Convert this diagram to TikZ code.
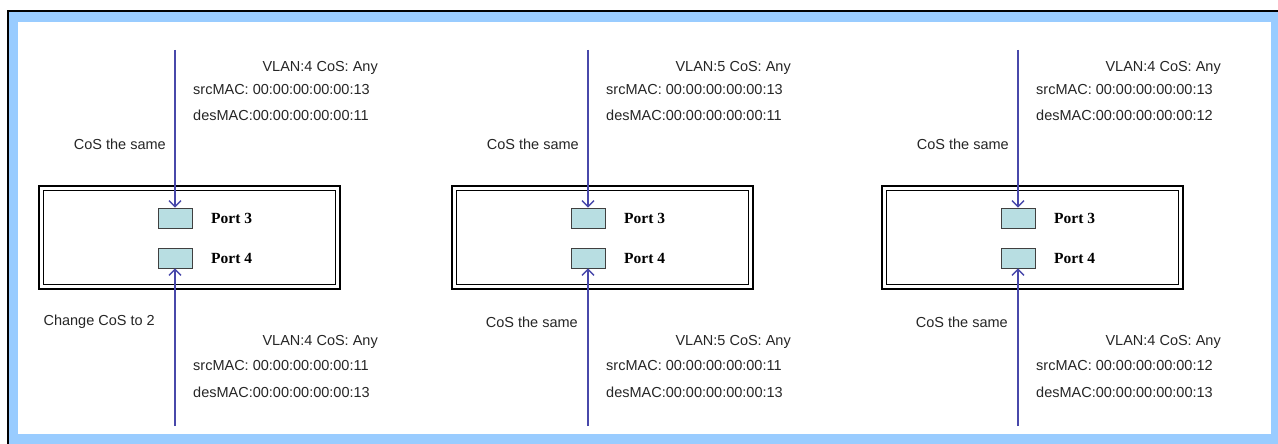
\documentclass[tikz,border=0pt]{standalone}
\usepackage{fontspec}
\setmainfont{Liberation Sans}
\newfontfamily\portfont{Liberation Serif}
\usetikzlibrary{positioning,arrows.meta}

\definecolor{framebl}{RGB}{153,204,255}
\definecolor{flowbl}{RGB}{72,72,170}
\definecolor{portfill}{RGB}{184,222,226}

\tikzset{
  txt/.style={font=\fontsize{14.5}{17}\selectfont, text=black!85, inner sep=0pt},
  portlbl/.style={font=\portfont\bfseries\fontsize{15.5}{17}\selectfont, inner sep=0pt},
  switchbox/.style={draw, line width=2pt, minimum width=301pt, minimum height=103pt},
  switchin/.style={draw, line width=0.8pt, minimum width=292pt, minimum height=94pt},
  portbox/.style={draw=black!75, line width=0.9pt, fill=portfill, minimum width=34pt, minimum height=20pt, inner sep=0pt},
  flow/.style={draw=flowbl, line width=1.5pt, -{Straight Barb[length=6pt,width=12pt,line width=1.3pt]}}
}

\begin{document}
\begin{tikzpicture}[x=1pt,y=-1pt]
  \useasboundingbox (0,0) rectangle (1278,444);
  % frame
  \fill[framebl] (8,11) rectangle (1278,444);
  \fill[white] (18,22) rectangle (1271,434);
  \draw[line width=1.5pt] (8,444) -- (8,11) -- (1278,11);

  \foreach \n/\ax/\vlan/\peer/\note/\nx in {1/175/4/11/Change CoS to 2/20, 2/588/5/11/CoS the same/10, 3/1018/4/12/CoS the same/10}{
    \node[switchbox] (sw\n) at (\ax+14.5,237.5) {};
    \node[switchin] (swi\n) at (sw\n.center) {};
    \node[portbox] (pa\n) at (\ax,218) {};
    \node[portbox] (pb\n) at (\ax,258) {};
    \node[portlbl, anchor=west] (la\n) at (\ax+36,218) {Port 3};
    \node[portlbl, anchor=west] (lb\n) at (\ax+36,258) {Port 4};

    \coordinate (top\n) at (\ax,50);
    \coordinate (bot\n) at (\ax,426);
    \draw[flow] (top\n) -- (pa\n.north);
    \draw[flow] (bot\n) -- (pb\n.south);

    % incoming frame
    \node[txt, anchor=east] (tv\n) at (\ax+203,68) {VLAN:\vlan\ CoS: Any};
    \node[txt, anchor=west] (ts\n) at (\ax+18,90) {srcMAC: 00:00:00:00:00:13};
    \node[txt, anchor=west] (td\n) at (\ax+18,115) {desMAC:00:00:00:00:00:\peer};
    \node[txt, anchor=east] (tn\n) at (\ax-9,144) {CoS the same};

    % returning frame
    \node[txt, anchor=east] (bn\n) at (\ax-\nx,322) {\note};
    \node[txt, anchor=east] (bv\n) at (\ax+203,342) {VLAN:\vlan\ CoS: Any};
    \node[txt, anchor=west] (bs\n) at (\ax+18,366) {srcMAC: 00:00:00:00:00:\peer};
    \node[txt, anchor=west] (bd\n) at (\ax+18,392) {desMAC:00:00:00:00:00:13};
  }
\end{tikzpicture}
\end{document}
